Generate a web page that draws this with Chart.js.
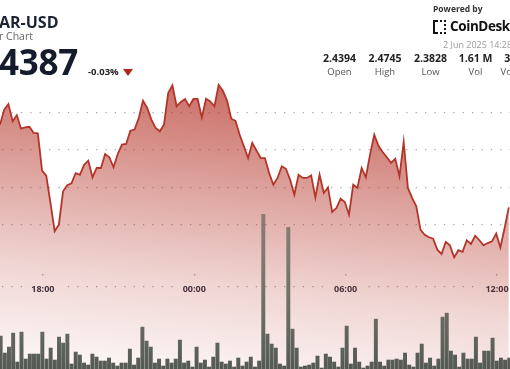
<!DOCTYPE html>
<html>
<head>
<meta charset="utf-8">
<script src="https://cdn.jsdelivr.net/npm/chart.js@4.4.1/dist/chart.umd.min.js"></script>
<style>
  html, body { margin: 0; padding: 0; background: #fff; overflow: hidden; width: 510px; height: 369px; }
  #wrap { position: relative; width: 510px; height: 369px; overflow: hidden; font-family: 'Open Sans', sans-serif; }
  #chartBox { position: absolute; left: 0; top: 0; width: 510px; height: 369px; }
  .t { position: absolute; white-space: nowrap; line-height: 1; z-index: 2; }
  .stat { position: absolute; width: 60px; text-align: center; z-index: 2; line-height: 1; white-space: nowrap; }
</style>
</head>
<body>
<div id="wrap">
  <div id="chartBox"><canvas id="c" width="510" height="369"></canvas></div>

  <div class="t" style="left:-1px; top:14px; font-size:16px; font-weight:700; color:#1b2434;">AR-USD</div>
  <div class="t" style="left:-1px; top:31px; font-size:10.5px; color:#666;">r Chart</div>
  <div class="t" style="left:-1px; top:44px; font-size:35px; font-weight:700; color:#141c2b; letter-spacing:-0.3px;">4387</div>
  <div class="t" style="left:88px; top:67.3px; font-size:9.5px; font-weight:700; color:#222;">-0.03%</div>
  <div class="t" style="left:123px; top:69px; width:0; height:0; border-left:5px solid transparent; border-right:5px solid transparent; border-top:7px solid #b3261c;"></div>

  <div class="t" style="left:433px; top:5.3px; font-size:8.5px; font-weight:700; color:#333;">Powered by</div>
  <svg class="t" style="left:433px; top:20px;" width="14" height="14" viewBox="0 0 14 14">
    <g fill="#111">
      <rect x="0" y="0" width="2" height="14"/>
      <rect x="0" y="0" width="5" height="2"/>
      <rect x="0" y="12" width="5" height="2"/>
      <rect x="7" y="0" width="2" height="2"/>
      <rect x="11" y="0" width="2" height="2"/>
      <rect x="7" y="12" width="2" height="2"/>
      <rect x="11" y="12" width="2" height="2"/>
      <rect x="11" y="4" width="2" height="2"/>
      <rect x="11" y="8" width="2" height="2"/>
    </g>
  </svg>
  <div class="t" style="left:450px; top:19.7px; font-size:13.5px; font-weight:700; color:#111; letter-spacing:-0.4px;">CoinDesk</div>
  <div class="t" style="left:443px; top:39.5px; font-size:9px; color:#9a9a9a;">2 Jun 2025 14:28</div>

  <div id="stats"></div>
</div>
<script>
// ---------- data ----------
const statValues = ['2.4394', '2.4745', '2.3828', '1.61 M', '3.93 M'];
const statLabels = ['Open', 'High', 'Low', 'Vol', 'Vol (USD)'];

// first price point at 16:18, one point every 10 minutes
const firstPointHour = 16 + 18 / 60;
const prices = [
  2.4533, 2.4613, 2.4643, 2.4551, 2.4583, 2.4512, 2.4519, 2.4522, 2.4489, 2.4487,
  2.4289, 2.4262, 2.4117, 2.3967, 2.4002, 2.4179, 2.4211, 2.4222, 2.4276, 2.4267,
  2.4320, 2.4342, 2.4254, 2.4303, 2.4303, 2.4377, 2.4360, 2.4307, 2.4377, 2.4427,
  2.4431, 2.4501, 2.4507, 2.4569, 2.4661, 2.4622, 2.4560, 2.4516, 2.4498, 2.4533,
  2.4702, 2.4742, 2.4631, 2.4654, 2.4670, 2.4631, 2.4670, 2.4670, 2.4572, 2.4671,
  2.4657, 2.4631, 2.4745, 2.4714, 2.4661, 2.4565, 2.4554, 2.4480, 2.4418, 2.4356,
  2.4436, 2.4395, 2.4356, 2.4356, 2.4276, 2.4214, 2.4250, 2.4312, 2.4299, 2.4241,
  2.4161, 2.4267, 2.4250, 2.4250, 2.4264, 2.4147, 2.4267, 2.4170, 2.4200, 2.4069,
  2.4090, 2.4140, 2.4122, 2.4055, 2.4214, 2.4197, 2.4303, 2.4254, 2.4374, 2.4480,
  2.4421, 2.4388, 2.4360, 2.4330, 2.4352, 2.4259, 2.4441, 2.4197, 2.4144, 2.4099,
  2.3975, 2.3948, 2.3935, 2.3927, 2.3869, 2.3846, 2.3910, 2.3892, 2.3828, 2.3866,
  2.3857, 2.3919, 2.3899, 2.3943, 2.3919, 2.3892, 2.3904, 2.3913, 2.3954, 2.3881,
  2.3984, 2.4094
];

// volume bars (thousands), first bar index -1
const firstBarIndex = -1;
const volumes = [
  65, 33, 16, 22, 36, 7, 37, 10, 15, 15,
  15, 37, 10, 21, 9, 32, 26, 35, 5, 17,
  14, 6, 4, 15, 12, 8, 8, 11, 6, 3,
  6, 6, 20, 4, 11, 42, 28, 22, 6, 10,
  3, 10, 6, 10, 29, 6, 8, 2, 22, 6,
  9, 2, 12, 26, 7, 5, 8, 2, 11, 3,
  7, 12, 2, 8, 155, 35, 25, 21, 5, 3,
  142, 40, 21, 2, 3, 4, 6, 13, 1, 15,
  12, 7, 2, 21, 43, 5, 21, 7, 1, 3,
  7, 50, 7, 3, 9, 9, 10, 9, 16, 4,
  2, 16, 25, 6, 11, 3, 10, 52, 56, 18,
  14, 2, 16, 10, 10, 32, 6, 18, 18, 31,
  8, 11, 9, 11
];

const timeTicks = [18, 24, 30, 36];
const timeTickLabels = ['18:00', '00:00', '06:00', '12:00'];
const gridPrices = [2.40, 2.42, 2.44, 2.46];
const axisBase = 2.3670;

// visible window
const priceMin = 2.32347, priceMax = 2.51959;
const hourMin = 16.3, hourMax = 36.514;
const barMin = -0.5517, barMax = 121.78;
const volMax = 370;

// ---------- header stats ----------
const statCenters = [339.5, 385, 430.5, 475.5, 521];
const statsEl = document.getElementById('stats');
statValues.forEach((v, i) => {
  const a = document.createElement('div');
  a.className = 'stat';
  a.style.cssText = `left:${statCenters[i] - 30}px; top:53.4px; font-size:10.5px; font-weight:700; color:#222;`;
  a.textContent = v;
  statsEl.appendChild(a);
  const b = document.createElement('div');
  b.className = 'stat';
  b.style.cssText = `left:${statCenters[i] - 30}px; top:66.6px; font-size:9.5px; color:#555;`;
  b.textContent = statLabels[i];
  statsEl.appendChild(b);
});

// ---------- chart ----------
const linePoints = prices.map((p, i) => ({ x: firstPointHour + i / 6, y: p }));
const barPoints = volumes.map((v, i) => ({ x: firstBarIndex + i, y: v }));

Chart.defaults.font.family = "'Open Sans', sans-serif";

function fillGradient(c) {
  const chart = c.chart;
  const area = chart.chartArea;
  if (!area) return 'rgba(0,0,0,0)';
  const g = chart.ctx.createLinearGradient(area.left + 300, area.top + 90, area.left + 270, area.top + 380);
  g.addColorStop(0, 'rgba(180,50,38,0.72)');
  g.addColorStop(0.4, 'rgba(180,50,38,0.42)');
  g.addColorStop(0.7, 'rgba(180,50,38,0.20)');
  g.addColorStop(1, 'rgba(180,50,38,0.05)');
  return g;
}

function barGradient(c) {
  const chart = c.chart;
  const area = chart.chartArea;
  if (!area) return '#5c6259';
  const g = chart.ctx.createLinearGradient(0, area.bottom, 0, area.bottom - 160);
  g.addColorStop(0, 'rgba(75,82,73,0.95)');
  g.addColorStop(1, 'rgba(75,82,73,0.55)');
  return g;
}

new Chart(document.getElementById('c'), {
  type: 'line',
  data: {
    datasets: [
      {
        type: 'bar',
        data: barPoints,
        xAxisID: 'xb',
        yAxisID: 'yv',
        backgroundColor: barGradient,
        borderWidth: 0,
        barThickness: 3.3,
        order: 0
      },
      {
        type: 'line',
        data: linePoints,
        xAxisID: 'x',
        yAxisID: 'y',
        borderColor: '#b3352a',
        borderWidth: 1.8,
        pointRadius: 0,
        tension: 0,
        fill: 'start',
        backgroundColor: fillGradient,
        order: 1
      }
    ]
  },
  options: {
    responsive: false,
    animation: false,
    devicePixelRatio: 1,
    layout: { padding: 0 },
    plugins: { legend: { display: false }, tooltip: { enabled: false } },
    scales: {
      y: {
        type: 'linear',
        position: 'left',
        min: priceMin,
        max: priceMax,
        afterBuildTicks: s => { s.ticks = [axisBase, ...gridPrices].map(v => ({ value: v })); },
        ticks: { display: false },
        grid: { color: '#a9a9a9', lineWidth: 1.2, drawTicks: false },
        border: { display: false, dash: [1.3, 8.1], dashOffset: 7.4 }
      },
      yv: {
        type: 'linear',
        display: false,
        min: 0,
        max: volMax
      },
      x: {
        type: 'linear',
        axis: 'x',
        position: { y: axisBase },
        min: hourMin,
        max: hourMax,
        offset: false,
        afterBuildTicks: s => { s.ticks = timeTicks.map(v => ({ value: v })); },
        ticks: {
          autoSkip: false,
          maxRotation: 0,
          padding: -3.1,
          color: '#2a3242',
          font: { size: 9, weight: 'bold' },
          callback: (v) => timeTickLabels[timeTicks.indexOf(v)],
          showLabelBackdrop: true,
          backdropColor: '#ffffff',
          backdropPadding: { left: 6, right: 6, top: 1, bottom: 1 }
        },
        grid: { color: '#a9a9a9', lineWidth: 1.3, drawTicks: false },
        border: { display: false, dash: [0, 274, 1.5, 2000] }
      },
      xb: {
        type: 'linear',
        display: false,
        offset: false,
        min: barMin,
        max: barMax
      }
    }
  }
});
</script>
</body>
</html>
